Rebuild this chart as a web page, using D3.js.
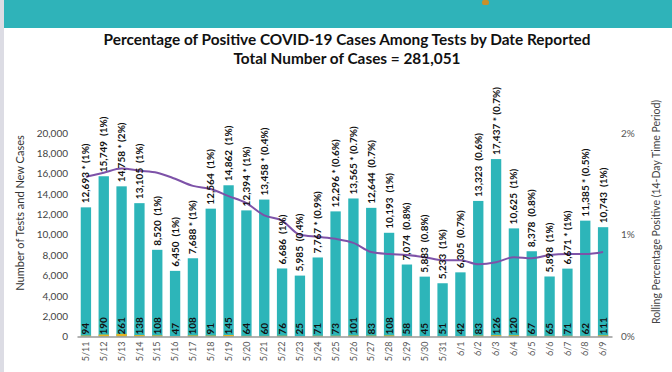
<!DOCTYPE html>
<html>
<head>
<meta charset="utf-8">
<script src="https://cdn.jsdelivr.net/npm/d3@7"></script>
<style>
  html, body { margin: 0; padding: 0; background: #fff; }
  svg { display: block; font-family: Lato, "Open Sans", sans-serif; }
</style>
</head>
<body>
<div id="chart"></div>
<script>
// Data
const dates = ['5/11','5/12','5/13','5/14','5/15','5/16','5/17','5/18','5/19','5/20','5/21','5/22','5/23','5/24','5/25',
  '5/26','5/27','5/28','5/29','5/30','5/31','6/1','6/2','6/3','6/4','6/5','6/6','6/7','6/8','6/9'];
const tests = [12693,15749,14758,13105,8520,6450,7688,12564,14862,12394,13458,6686,5985,7767,12296,
  13565,12644,10193,7074,5883,5233,6305,13323,17437,10625,8378,5898,6671,11385,10743];
const testLabels = ['12,693 * (1%)','15,749  (1%)','14,758 * (2%)','13,105  (1%)','8,520  (1%)','6,450  (1%)',
  '7,688 * (1%)','12,564  (1%)','14,862  (1%)','12,394 * (1%)','13,458 * (0.4%)','6,686  (1%)','5,985  (0.4%)',
  '7,767 * (0.9%)','12,296 * (0.6%)','13,565 * (0.7%)','12,644  (0.7%)','10,193  (1%)','7,074  (0.8%)',
  '5,883  (0.8%)','5,233  (1%)','6,305  (0.7%)','13,323  (0.6%)','17,437 * (0.7%)','10,625  (1%)',
  '8,378  (0.8%)','5,898  (1%)','6,671 * (1%)','11,385 * (0.5%)','10,743  (1%)'];
const newCases = [94,190,261,138,108,47,108,91,145,64,60,76,25,71,73,101,83,108,58,45,51,42,83,126,120,67,65,71,62,111];
const rollingPct = [1.57,1.61,1.65,1.63,1.61,1.55,1.48,1.45,1.38,1.31,1.19,1.14,1.00,0.98,0.96,
  0.92,0.83,0.81,0.80,0.78,0.75,0.75,0.71,0.73,0.78,0.77,0.80,0.81,0.81,0.83];
const leftTicks = [0,2000,4000,6000,8000,10000,12000,14000,16000,18000,20000];
const rightTicks = [0,1,2];

const width = 672, height = 372;
const teal = '#2db5b9';

const svg = d3.select('#chart').append('svg')
  .attr('width', width)
  .attr('height', height);

// Header band + left page edge
svg.append('rect').attr('x', 0).attr('y', 0).attr('width', width).attr('height', 28).attr('fill', '#2fb3b9');
svg.append('rect').attr('x', 482).attr('y', 0).attr('width', 7).attr('height', 5).attr('rx', 2).attr('fill', '#c8902a');
svg.append('rect').attr('x', 0).attr('y', 0).attr('width', 4).attr('height', height).attr('fill', '#dcdce4');

// Titles
svg.append('text')
  .attr('x', 347).attr('y', 45)
  .attr('text-anchor', 'middle')
  .attr('textLength', 487).attr('lengthAdjust', 'spacingAndGlyphs')
  .style('font-size', '15px').style('font-weight', 'bold').attr('fill', '#111')
  .text('Percentage of Positive COVID-19 Cases Among Tests by Date Reported');
svg.append('text')
  .attr('x', 347).attr('y', 64)
  .attr('text-anchor', 'middle')
  .attr('textLength', 227).attr('lengthAdjust', 'spacingAndGlyphs')
  .style('font-size', '15px').style('font-weight', 'bold').attr('fill', '#111')
  .text('Total Number of Cases = 281,051');

// Scales
const x = d3.scaleBand().domain(dates).range([77, 612]).paddingInner(0.42).paddingOuter(0.21);
const yL = d3.scaleLinear().domain([0, 20000]).range([336.5, 133]);
const yR = d3.scaleLinear().domain([0, 2]).range([336.5, 133]);

// Left axis
const gL = svg.append('g')
  .attr('transform', 'translate(76,0)')
  .call(d3.axisLeft(yL).tickValues(leftTicks).tickSize(0).tickPadding(8).tickFormat(d3.format(',')));
gL.select('.domain').remove();
gL.selectAll('text').attr('fill', '#444').style('font-size', '10px').style('font-family', 'Lato, sans-serif');

svg.append('text')
  .attr('transform', 'translate(24,213) rotate(-90)')
  .attr('text-anchor', 'middle')
  .attr('fill', '#333')
  .style('font-size', '11px')
  .text('Number of Tests and New Cases');

// Right axis
const gR = svg.append('g')
  .attr('transform', 'translate(612,0)')
  .call(d3.axisRight(yR).tickValues(rightTicks).tickSize(0).tickPadding(9).tickFormat(d => d + '%'));
gR.select('.domain').remove();
gR.selectAll('text').attr('fill', '#555').style('font-size', '10px').style('font-family', 'Lato, sans-serif');

svg.append('text')
  .attr('transform', 'translate(660,212) rotate(-90)')
  .attr('text-anchor', 'middle')
  .attr('fill', '#444')
  .style('font-size', '10.5px')
  .text('Rolling Percentage Positive (14-Day Time Period)');

// Test bars
svg.selectAll('.bar')
  .data(dates)
  .enter()
  .append('rect')
  .attr('class', 'bar')
  .attr('x', d => x(d))
  .attr('y', (d, i) => yL(tests[i]))
  .attr('width', x.bandwidth())
  .attr('height', (d, i) => yL(0) - yL(tests[i]))
  .attr('fill', teal);

// New case bars (tiny, gold)
svg.selectAll('.newbar')
  .data(dates)
  .enter()
  .append('rect')
  .attr('class', 'newbar')
  .attr('x', d => x(d))
  .attr('y', (d, i) => yL(newCases[i]))
  .attr('width', x.bandwidth())
  .attr('height', (d, i) => yL(0) - yL(newCases[i]))
  .attr('fill', '#e6b422');

// X axis
const gX = svg.append('g')
  .attr('transform', `translate(0,${yL(0)})`)
  .call(d3.axisBottom(x).tickSize(0).tickSizeOuter(0).tickPadding(0));
gX.select('.domain').attr('stroke', '#999').attr('stroke-width', 1.5);
gX.selectAll('text')
  .attr('transform', 'rotate(-90)')
  .attr('text-anchor', 'end')
  .attr('x', -5)
  .attr('y', 0)
  .attr('dy', '0.35em')
  .attr('fill', '#555')
  .style('font-size', '9px')
  .style('font-family', 'Lato, sans-serif');

// Rolling percentage line
const line = d3.line()
  .x((d, i) => x(dates[i]) + x.bandwidth() / 2)
  .y(d => yR(d))
  .curve(d3.curveMonotoneX);
svg.append('path')
  .datum(rollingPct)
  .attr('d', line)
  .attr('fill', 'none')
  .attr('stroke', '#7d52a8')
  .attr('stroke-width', 2);

// Test labels above bars
svg.selectAll('.tlabel')
  .data(dates)
  .enter()
  .append('text')
  .attr('class', 'tlabel')
  .attr('transform', (d, i) => `translate(${x(d) + x.bandwidth() / 2},${yL(tests[i]) - 4}) rotate(-90)`)
  .attr('dy', '0.35em')
  .attr('fill', '#111')
  .style('font-size', '10px')
  .style('font-weight', 'bold')
  .style('white-space', 'pre')
  .text((d, i) => testLabels[i]);

// New case labels at bar base
svg.selectAll('.nlabel')
  .data(dates)
  .enter()
  .append('text')
  .attr('class', 'nlabel')
  .attr('transform', d => `translate(${x(d) + x.bandwidth() / 2},${yL(0) - 2}) rotate(-90)`)
  .attr('dy', '0.35em')
  .attr('fill', '#111')
  .style('font-size', '10px')
  .style('font-weight', 'bold')
  .text((d, i) => newCases[i]);
</script>
</body>
</html>
